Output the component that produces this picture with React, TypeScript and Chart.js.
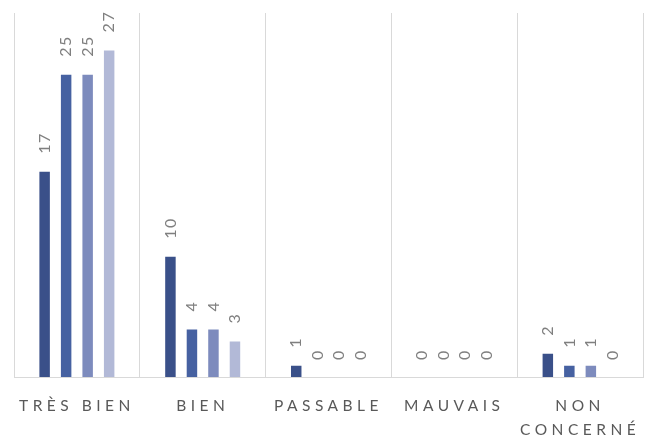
import React, { useEffect, useRef } from "react";
import { Chart, registerables } from "chart.js";

Chart.register(...registerables);

const categories: (string | string[])[] = ["TRÈS BIEN", "BIEN", "PASSABLE", "MAUVAIS", ["NON", "CONCERNÉ"]];
const series1 = [17, 10, 1, 0, 2];
const series2 = [25, 4, 0, 0, 1];
const series3 = [25, 4, 0, 0, 1];
const series4 = [27, 3, 0, 0, 0];
const seriesNames = ["Série 1", "Série 2", "Série 3", "Série 4"];
const colors = ["#3A5089", "#4661A1", "#7D8BBD", "#B2B9D7"];

const FONT = "Lato, 'Open Sans', sans-serif";

const spacingPlugin = {
  id: "spacing",
  beforeDraw(chart: any) {
    chart.ctx.letterSpacing = "4.5px";
  },
  beforeDatasetsDraw(chart: any) {
    chart.ctx.letterSpacing = "0px";
  },
};

const labelPlugin = {
  id: "barLabels",
  afterDatasetsDraw(chart: any) {
    const ctx = chart.ctx;
    chart.data.datasets.forEach((ds: any, di: number) => {
      const meta = chart.getDatasetMeta(di);
      meta.data.forEach((bar: any, i: number) => {
        const v = ds.data[i];
        ctx.save();
        ctx.letterSpacing = "1.5px";
        ctx.font = `16px ${FONT}`;
        ctx.fillStyle = "#7F7F7F";
        ctx.translate(bar.x, bar.y - 17);
        ctx.rotate(-Math.PI / 2);
        ctx.textAlign = "left";
        ctx.textBaseline = "middle";
        ctx.fillText(String(v), 0, 0);
        ctx.restore();
      });
    });
  },
};

export default function App() {
  const ref = useRef<HTMLCanvasElement>(null);
  useEffect(() => {
    const chart = new Chart(ref.current!, {
      type: "bar",
      data: {
        labels: categories,
        datasets: [series1, series2, series3, series4].map((d, i) => ({
          label: seriesNames[i],
          data: d,
          backgroundColor: colors[i],
          borderColor: "#FFFFFF",
          borderWidth: 1,
          categoryPercentage: 0.684,
          barPercentage: 0.58,
        })),
      },
      options: {
        responsive: true,
        maintainAspectRatio: false,
        animation: false,
        layout: { padding: { left: 14, right: 11, top: 13, bottom: 0 } },
        plugins: { legend: { display: false }, tooltip: { enabled: false } },
        scales: {
          x: {
            grid: { color: "#D9D9D9", lineWidth: 1, drawTicks: false, offset: true },
            border: { color: "#D9D9D9", width: 1 },
            ticks: {
              color: "#595959",
              font: { family: FONT, size: 15.5, lineHeight: 1.55 },
              padding: 17,
              maxRotation: 0,
              autoSkip: false,
            },
            afterFit(scale: any) {
              scale.height = 64;
            },
          },
          y: { display: false, min: 0, max: 30 },
        },
      },
      plugins: [spacingPlugin, labelPlugin],
    });
    return () => chart.destroy();
  }, []);
  return (
    <div style={{ position: "fixed", left: 0, top: 0, width: 654, height: 441, background: "#fff" }}>
      <canvas ref={ref} />
    </div>
  );
}
